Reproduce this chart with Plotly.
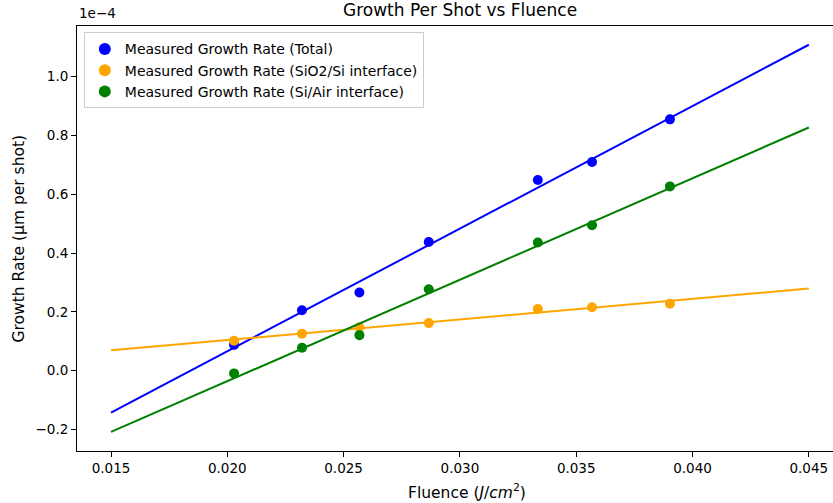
import numpy as np
import plotly.graph_objects as go

# Fluence per measurement (J/cm^2)
fluence = [0.02029, 0.02321, 0.02568, 0.02866, 0.03335, 0.03568, 0.03903]

# Growth per shot, in units of 1e-4 µm per shot
growth_total = [0.088, 0.206, 0.266, 0.438, 0.649, 0.710, 0.855]
growth_sio2_si = [0.102, 0.126, 0.148, 0.162, 0.210, 0.216, 0.228]
growth_si_air = [-0.009, 0.078, 0.121, 0.277, 0.436, 0.495, 0.627]

# Fluence span for the linear fits
fit_span = [0.015, 0.045]

x_ticks = [0.015, 0.020, 0.025, 0.030, 0.035, 0.040, 0.045]
y_ticks = [-0.2, 0.0, 0.2, 0.4, 0.6, 0.8, 1.0]

series = [
    ("Measured Growth Rate (Total)", growth_total, "blue"),
    ("Measured Growth Rate (SiO2/Si interface)", growth_sio2_si, "orange"),
    ("Measured Growth Rate (Si/Air interface)", growth_si_air, "green"),
]

FONT = "DejaVu Sans"
fig = go.Figure()

x_fit = np.array(fit_span)
for name, values, color in series:
    fig.add_trace(go.Scatter(
        x=fluence, y=values, mode="markers", name=name,
        marker=dict(color=color, size=10, line=dict(width=0)),
    ))
    slope, intercept = np.polyfit(fluence, values, 1)
    fig.add_trace(go.Scatter(
        x=x_fit, y=slope * x_fit + intercept, mode="lines",
        line=dict(color=color, width=2), showlegend=False, hoverinfo="skip",
    ))

W, H = 833, 503
L, R, T, B = 77, 0, 26, 52

fig.update_layout(
    width=W, height=H,
    margin=dict(l=L, r=R, t=T, b=B),
    paper_bgcolor="white", plot_bgcolor="white",
    font=dict(family=FONT, size=13, color="black"),
    showlegend=True,
    legend=dict(
        x=0.009, y=0.985, xanchor="left", yanchor="top",
        bgcolor="rgba(255,255,255,0.8)", bordercolor="#cccccc", borderwidth=1,
        font=dict(family=FONT, size=14, color="black"),
        itemsizing="constant",
    ),
    xaxis=dict(
        range=[0.013538, 0.04604],
        tickvals=x_ticks, tickformat=".3f",
        showgrid=False, zeroline=False,
        showline=True, linecolor="black", linewidth=1, mirror=True,
        ticks="outside", ticklen=5, tickcolor="black", tickwidth=1,
        tickfont=dict(family=FONT, size=13.5, color="black"),
    ),
    yaxis=dict(
        range=[-0.273, 1.1725],
        tickvals=y_ticks, tickformat=".1f",
        showgrid=False, zeroline=False,
        showline=True, linecolor="black", linewidth=1, mirror=False,
        ticks="outside", ticklen=5, tickcolor="black", tickwidth=1,
        tickfont=dict(family=FONT, size=13.5, color="black"),
    ),
    annotations=[
        dict(text="Growth Per Shot vs Fluence", xref="paper", yref="paper",
             x=(459.5 - L) / (W - L), y=1, yshift=4, xanchor="center", yanchor="bottom",
             showarrow=False, font=dict(family=FONT, size=17, color="black")),
        dict(text="1e\u22124", xref="paper", yref="paper",
             x=0, y=1, yshift=3, xanchor="left", yanchor="bottom",
             showarrow=False, font=dict(family=FONT, size=13.5, color="black")),
        dict(text="Fluence (<i>J</i>/<i>cm</i><sup>2</sup>)", xref="paper", yref="paper",
             x=(467 - L) / (W - L), y=0, yshift=-28, xanchor="center", yanchor="top",
             showarrow=False, font=dict(family=FONT, size=15.5, color="black")),
        dict(text="Growth Rate (µm per shot)", xref="paper", yref="paper",
             x=(18 - L) / (W - L), y=0.5, xanchor="center", yanchor="middle",
             textangle=-90, showarrow=False, font=dict(family=FONT, size=15.5, color="black")),
    ],
)

fig.write_html("out.html")
